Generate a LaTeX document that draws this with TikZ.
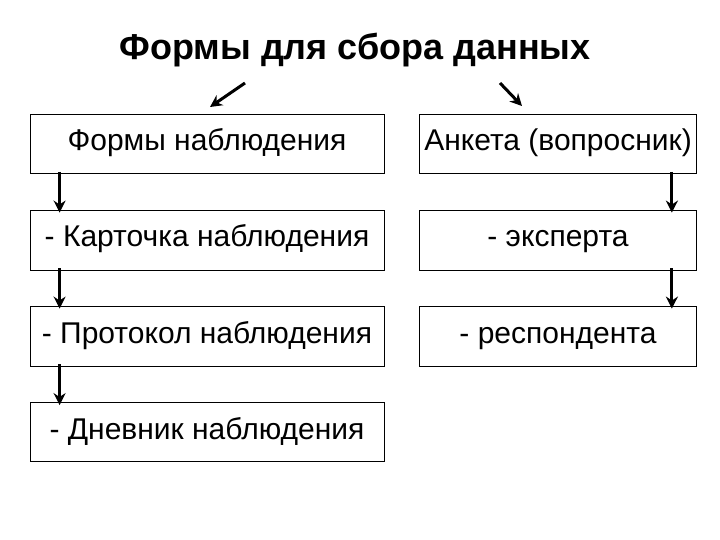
\documentclass[tikz,border=0pt]{standalone}
\usepackage{fontspec}
\setmainfont{Liberation Sans}
\usetikzlibrary{arrows.meta}
\begin{document}
\begin{tikzpicture}[x=1pt,y=-1pt,
  box/.style={draw,line width=0.8pt,minimum height=59pt,inner sep=0pt,text height=20pt,text depth=6pt,font=\fontsize{30}{34}\selectfont},
  arr/.style={line width=3pt,-{Stealth[length=12pt,width=12pt]}}]
\useasboundingbox (0,0) rectangle (720,540);
\node[font=\bfseries\fontsize{36}{40}\selectfont] (t) at (355,50) {Формы для сбора данных};
\node[box,minimum width=354pt] (l1) at (207,144) {Формы наблюдения};
\node[box,minimum width=354pt,minimum height=60pt] (l2) at (207,240) {- Карточка наблюдения};
\node[box,minimum width=354pt,minimum height=60pt] (l3) at (207,336) {- Протокол наблюдения};
\node[box,minimum width=354pt] (l4) at (207,432) {- Дневник наблюдения};
\node[box,minimum width=277pt] (r1) at (558,144) {Анкета (вопросник)};
\node[box,minimum width=277pt,minimum height=60pt] (r2) at (558,240) {- эксперта};
\node[box,minimum width=277pt,minimum height=60pt] (r3) at (558,336) {- респондента};
\coordinate (ta) at (245,83); \coordinate (tae) at (210,107);
\coordinate (tb) at (500,83); \coordinate (tbe) at (522,106);
\draw[arr] (ta) -- (tae);
\draw[arr] (tb) -- (tbe);
\draw[arr] ([xshift=30pt,yshift=2pt]l1.south west) -- ([xshift=30pt,yshift=-3pt]l2.north west);
\draw[arr] ([xshift=30pt,yshift=2pt]l2.south west) -- ([xshift=30pt,yshift=-3pt]l3.north west);
\draw[arr] ([xshift=30pt,yshift=2pt]l3.south west) -- ([xshift=30pt,yshift=-3pt]l4.north west);
\draw[arr] ([xshift=-25pt,yshift=2pt]r1.south east) -- ([xshift=-25pt,yshift=-3pt]r2.north east);
\draw[arr] ([xshift=-25pt,yshift=2pt]r2.south east) -- ([xshift=-25pt,yshift=-3pt]r3.north east);
\end{tikzpicture}
\end{document}
